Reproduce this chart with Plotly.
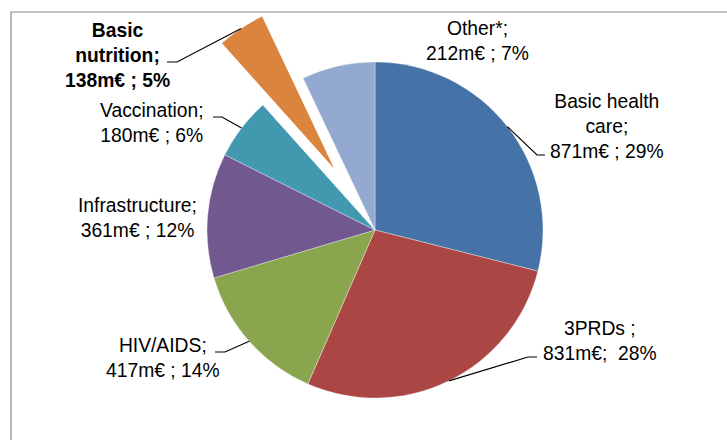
import math

import plotly.graph_objects as go

W, H = 727, 440

labels = ["Basic health care", "3PRDs", "HIV/AIDS", "Infrastructure",
          "Vaccination", "Basic nutrition", "Other*"]
values_meur = [871, 831, 417, 361, 180, 138, 212]
shares_pct = [29, 28, 14, 12, 6, 5, 7]
label_texts = [
    "Basic health<br>care;<br>871m€ ; 29%",
    "3PRDs ;<br>831m€;  28%",
    "HIV/AIDS;<br>417m€ ; 14%",
    "Infrastructure;<br>361m€ ; 12%",
    "Vaccination;<br>180m€ ; 6%",
    "<b>Basic<br>nutrition;<br>138m€ ; 5%</b>",
    "Other*;<br>212m€ ; 7%",
]
colors = ["#4572A7", "#AA4643", "#89A54E", "#71588F", "#4198AF", "#DB843D", "#93A9CF"]

PULLED = 5          # Basic nutrition is exploded
PULL = 0.44
CX, CY, R = 375, 230, 168   # pie centre / radius in pixels

# label centre (px) and leader line (elbow, end) in px, None = no leader
label_pos = [(607, 127), (600, 341), (163, 358), (137, 218), (152, 123), (118, 55), (477, 41)]
leaders = [((537, 155), (545, 155)), ((528, 357), (537, 357)), ((225, 352), (215, 352)),
           None, ((222, 117), (213, 117)), ((177, 62), (167, 62)), None]


def px(x):
    return x / W


def py(y):
    return 1 - y / H


def domain(cx, cy, r):
    return dict(x=[px(cx - r), px(cx + r)], y=[max(0, py(cy + r)), min(1, py(cy - r))])


total = sum(values_meur)
mid_angles = []
acc = 0
for v in values_meur:
    mid_angles.append(math.radians((acc + v / 2) / total * 360))
    acc += v

# centre of the exploded slice
a = mid_angles[PULLED]
pcx = CX + PULL * R * math.sin(a)
pcy = CY - PULL * R * math.cos(a)

clear = "rgba(0,0,0,0)"
main_colors = [clear if i == PULLED else c for i, c in enumerate(colors)]
pulled_colors = [c if i == PULLED else clear for i, c in enumerate(colors)]

fig = go.Figure()
fig.add_trace(go.Pie(
    labels=labels, values=values_meur, sort=False, direction="clockwise", rotation=0,
    marker=dict(colors=main_colors, line=dict(color="rgba(255,255,255,0.6)", width=0.6)),
    textinfo="none", domain=domain(CX, CY, R), showlegend=False,
))
fig.add_trace(go.Pie(
    labels=labels, values=values_meur, sort=False, direction="clockwise", rotation=0,
    marker=dict(colors=pulled_colors, line=dict(width=0)),
    textinfo="none", domain=domain(pcx, pcy, R), showlegend=False, hoverinfo="skip",
))

annotations = []
shapes = [dict(type="rect", xref="paper", yref="paper", x0=px(11), x1=1.05, y0=-0.05, y1=py(12),
               line=dict(color="#8c8c8c", width=1.2), fillcolor=clear, layer="below")]

for i, txt in enumerate(label_texts):
    lx, ly = label_pos[i]
    annotations.append(dict(
        x=px(lx), y=py(ly), xref="paper", yref="paper", text=txt, showarrow=False,
        xanchor="center", yanchor="middle", align="center",
        font=dict(family="Liberation Sans, Arial", size=19.3, color="#000000"),
    ))
    if leaders[i] is None:
        continue
    ccx, ccy = (pcx, pcy) if i == PULLED else (CX, CY)
    ax = ccx + R * math.sin(mid_angles[i])
    ay = ccy - R * math.cos(mid_angles[i])
    (ex, ey), (tx, ty) = leaders[i]
    shapes.append(dict(
        type="path", xref="paper", yref="paper",
        path=f"M {px(ax)},{py(ay)} L {px(ex)},{py(ey)} L {px(tx)},{py(ty)}",
        line=dict(color="#000000", width=1.2),
    ))

fig.update_layout(
    width=W, height=H,
    margin=dict(l=0, r=0, t=0, b=0),
    paper_bgcolor="white",
    annotations=annotations,
    shapes=shapes,
)

fig.write_html("out.html", config={"displayModeBar": False},
               post_script="document.body.style.margin='0px';")
